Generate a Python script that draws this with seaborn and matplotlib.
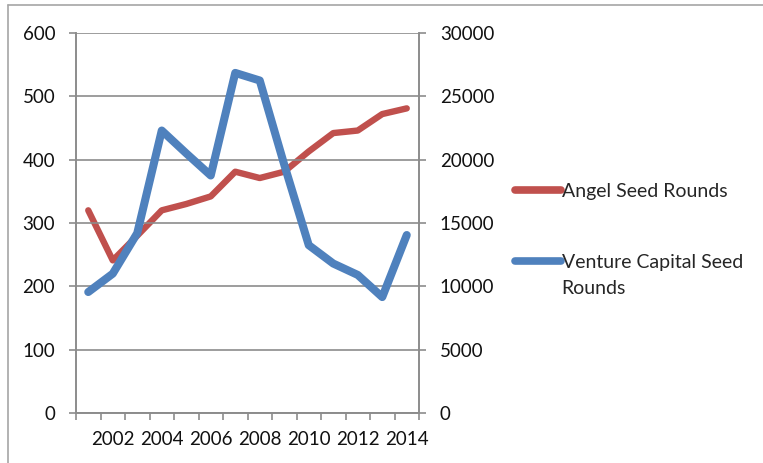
import matplotlib
matplotlib.use("Agg")
import matplotlib.pyplot as plt
from matplotlib.lines import Line2D
import seaborn as sns
import pandas as pd
import numpy as np

years = [2001, 2002, 2003, 2004, 2005, 2006, 2007, 2008, 2009, 2010, 2011, 2012, 2013, 2014]
vc_seed = [191, 220, 284, 446, 410, 375, 537, 525, 392, 265, 236, 218, 183, 281]
angel_seed = [16000, 12050, 14000, 16000, 16500, 17100, 19050, 18550, 19050, 20650, 22100, 22300, 23600, 24050]
left_ticks = [0, 100, 200, 300, 400, 500, 600]
right_ticks = [0, 5000, 10000, 15000, 20000, 25000, 30000]
xtick_years = [2002, 2004, 2006, 2008, 2010, 2012, 2014]
labels = ["Angel Seed Rounds", "Venture Capital Seed\nRounds"]

df = pd.DataFrame({"year": years, "vc": vc_seed, "angel": angel_seed})

sns.set_style("white")
plt.rcParams["font.family"] = ["Lato", "DejaVu Sans"]

RED = "#C0504D"
BLUE = "#4F81BD"
GRID = "#8C8C8C"

fig = plt.figure(figsize=(7.63, 4.63), dpi=100)
W, H = 763, 463
ax = fig.add_axes([76 / W, 1 - 413 / H, (419 - 76) / W, (413 - 33) / H])
ax2 = ax.twinx()

sns.lineplot(data=df, x="year", y="angel", ax=ax2, color=RED, linewidth=4.6,
             legend=False, solid_capstyle="round", solid_joinstyle="round")
sns.lineplot(data=df, x="year", y="vc", ax=ax, color=BLUE, linewidth=5.8,
             legend=False, solid_capstyle="round", solid_joinstyle="round")

ax.set_zorder(ax2.get_zorder() + 1)
ax.patch.set_visible(False)

ax.set_xlim(2000.5, 2014.5)
ax.set_ylim(0, 600)
ax2.set_ylim(0, 30000)
ax.set_yticks(left_ticks)
ax2.set_yticks(right_ticks)
ax.set_xticks(xtick_years)
ax.set_xticklabels([str(y) for y in xtick_years])
ax.set_xticks([y + 0.5 for y in [2000] + years], minor=True)

ax.set_xlabel("")
ax.set_ylabel("")
ax2.set_ylabel("")

ax.yaxis.grid(True, color=GRID, linewidth=1.2)
ax.set_axisbelow(True)

for a in (ax, ax2):
    for s in a.spines.values():
        s.set_color(GRID)
        s.set_linewidth(1.2)
    a.spines["top"].set_visible(False)

ax.tick_params(axis="y", which="major", direction="out", length=5, width=1.2,
               color=GRID, labelsize=13.5, pad=10, left=True, labelcolor="#111111")
ax2.tick_params(axis="y", which="major", direction="out", length=5, width=1.2,
                color=GRID, labelsize=13.5, pad=10, right=True, labelcolor="#111111")
ax.tick_params(axis="x", which="major", length=0, labelsize=13.5, pad=13, labelcolor="#111111")
ax.tick_params(axis="x", which="minor", direction="out", length=5, width=1.2,
               color=GRID, bottom=True)

FS = 14
handles = [Line2D([], [], color=RED, linewidth=5.5, solid_capstyle="round"),
           Line2D([], [], color=BLUE, linewidth=5.5, solid_capstyle="round")]
leg = fig.legend(handles, labels, loc="upper left", bbox_to_anchor=(515 / W, 1 - 183 / H),
                 frameon=False, fontsize=FS, handlelength=2.35, handletextpad=0.05,
                 labelspacing=2.8, borderaxespad=0, borderpad=0)
txts = leg.get_texts()
txts[1].set_linespacing(1.64)
# align the second handle with the first line of its two-line label
lns = leg.get_lines()
shift = 11.0
lns[1].set_ydata(np.asarray(lns[1].get_ydata()) + shift)

# outer chart border (partially visible)
fig.add_artist(Line2D([8 / W, 8 / W], [0, 1 - 5 / H], transform=fig.transFigure,
                      color="#A6A6A6", linewidth=1.2))
fig.add_artist(Line2D([8 / W, 1], [1 - 5 / H, 1 - 5 / H], transform=fig.transFigure,
                      color="#A6A6A6", linewidth=1.2))

fig.savefig("out.png", dpi=100)
